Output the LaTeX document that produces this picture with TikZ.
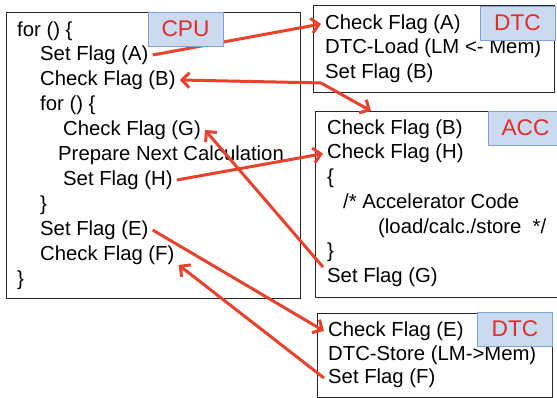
\documentclass[tikz,border=0pt]{standalone}
\usepackage{fontspec}
\setmainfont{Liberation Sans}
\usetikzlibrary{arrows.meta}
\definecolor{flagred}{HTML}{E8412C}
\definecolor{tagblue}{HTML}{CADBEF}
\definecolor{tagedge}{HTML}{7DA4D4}
\definecolor{tagred}{HTML}{E52B2B}
\tikzset{
	framebox/.style={
			rectangle,
			draw=black!85,
			line width=1.2pt,
			anchor=north west,
			inner sep=0pt
		},
	tagnode/.style={
			rectangle,
			draw=tagedge,
			fill=tagblue,
			line width=0.9pt,
			text=tagred,
			font=\fontsize{22.7}{26}\selectfont,
			minimum width=75pt,
			minimum height=34pt,
			inner sep=0pt
		},
	codeline/.style={
			anchor=west,
			inner xsep=4pt,
			inner ysep=0pt,
			text height=15pt,
			text depth=4.5pt,
			font=\fontsize{20.3}{25}\selectfont
		},
	flagarrow/.style={
			draw=flagred,
			line width=3pt,
			-{Straight Barb[length=7.5pt,width=15pt]}
		}
}
\begin{document}
\begin{tikzpicture}[x=1pt,y=-1pt]
\useasboundingbox (0,0) rectangle (557,398);

\node[framebox, minimum width=294pt, minimum height=286pt] (cpubox) at (6,12) {};
\node[framebox, minimum width=241pt, minimum height=87pt] (dtcinbox) at (313,5) {};
\node[framebox, minimum width=250pt, minimum height=186pt] (accbox) at (315,111) {};
\node[framebox, minimum width=235pt, minimum height=84pt] (dtcoutbox) at (317,313) {};

\node[codeline] (cpuFor) at (13,31) {for () \{};
\node[codeline] (cpuSetA) at (36,55) {Set Flag (A)};
\node[codeline] (cpuChkB) at (36,80) {Check Flag (B)};
\node[codeline] (cpuInner) at (36,105) {for () \{};
\node[codeline] (cpuChkG) at (59,130) {Check Flag (G)};
\node[codeline] (cpuPrep) at (54,155) {Prepare Next Calculation};
\node[codeline] (cpuSetH) at (59,180) {Set Flag (H)};
\node[codeline] (cpuInnerEnd) at (36,205) {\}};
\node[codeline] (cpuSetE) at (36,230) {Set Flag (E)};
\node[codeline] (cpuChkF) at (36,255) {Check Flag (F)};
\node[codeline] (cpuEnd) at (13,280) {\}};

\node[codeline] (dtcChkA) at (321,24) {Check Flag (A)};
\node[codeline] (dtcLoad) at (321,48) {DTC-Load (LM <- Mem)};
\node[codeline] (dtcSetB) at (321,73) {Set Flag (B)};

\node[codeline] (accChkB) at (323,129) {Check Flag (B)};
\node[codeline] (accChkH) at (323,153.7) {Check Flag (H)};
\node[codeline] (accOpen) at (323,178.4) {\{};
\node[codeline] (accCode) at (339,203) {/* Accelerator Code};
\node[codeline] (accSteps) at (374,227.8) {(load/calc./store~~*/};
\node[codeline] (accClose) at (323,252.5) {\}};
\node[codeline] (accSetG) at (323,277) {Set Flag (G)};

\node[codeline] (dtcChkE) at (324,331) {Check Flag (E)};
\node[codeline] (dtcStore) at (324,355) {DTC-Store (LM->Mem)};
\node[codeline] (dtcSetF) at (324,378) {Set Flag (F)};

\coordinate (accin) at (371,111);

\path (cpuSetA.east) edge[flagarrow] (dtcChkA.west);
\path (dtcSetB.south west) edge[flagarrow] (cpuChkB.east) edge[flagarrow] (accin);
\path (cpuSetH.east) edge[flagarrow] (accChkH.west);
\path (accSetG.north west) edge[flagarrow] (cpuChkG.east);
\path (cpuSetE.east) edge[flagarrow] (dtcChkE.west);
\path (dtcSetF.west) edge[flagarrow] (cpuChkF.south east);

\node[tagnode] (cputag) at (185.5,29) {CPU};
\node[tagnode] (dtcintag) at (517.5,23) {DTC};
\node[tagnode] (acctag) at (525.5,128) {ACC};
\node[tagnode] (dtcouttag) at (515,329) {DTC};

\end{tikzpicture}
\end{document}
